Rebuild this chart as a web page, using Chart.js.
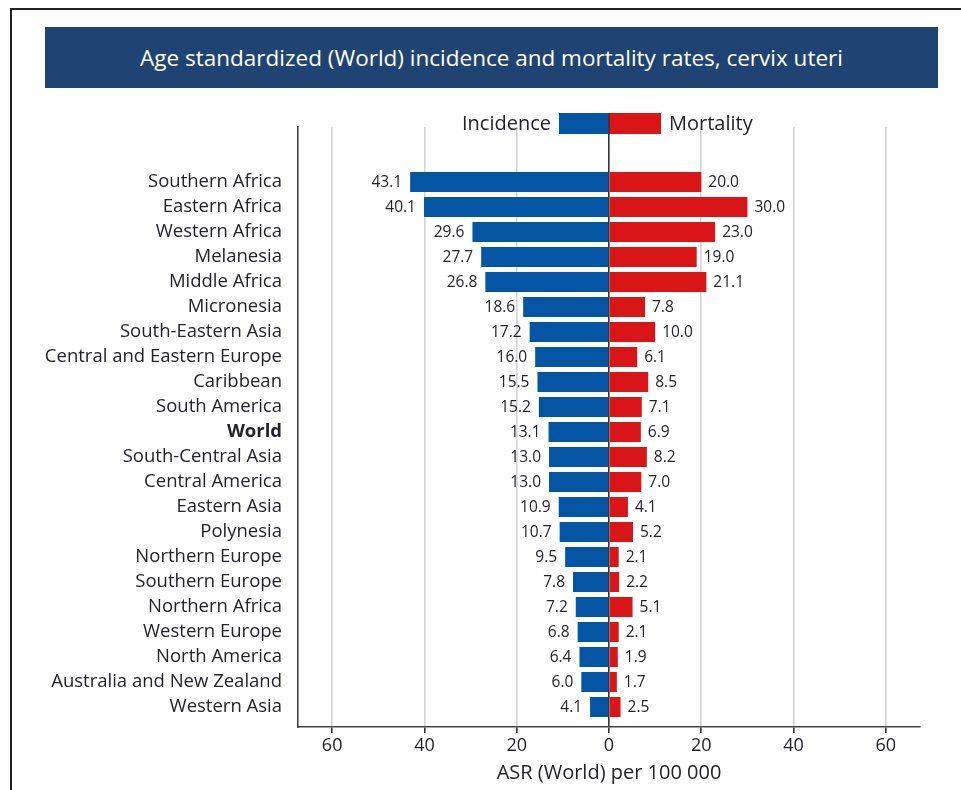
<!DOCTYPE html>
<html>
<head>
<meta charset="utf-8">
<script src="https://cdn.jsdelivr.net/npm/chart.js@4.4.1/dist/chart.umd.min.js"></script>
<style>
  html, body { margin: 0; padding: 0; background: #fff; }
  body { width: 961px; height: 790px; position: relative; overflow: hidden; font-family: "Open Sans", sans-serif; }
  #frame { position: absolute; left: 10px; top: 8px; width: 960px; height: 800px; border-top: 2px solid #222; border-left: 2px solid #222; }
  #title { position: absolute; left: 45px; top: 27px; width: 893px; height: 61px; background: #1f4474;
           color: #fff; font-size: 22.5px; line-height: 61px; text-align: center; }
  #wrap { position: absolute; left: 0; top: 0; width: 961px; height: 790px; }
</style>
</head>
<body>
<div id="frame"></div>
<div id="title">Age standardized (World) incidence and mortality rates, cervix uteri</div>
<div id="wrap"><canvas id="mycanvas"></canvas></div>
<script>
var regions = ['Southern Africa', 'Eastern Africa', 'Western Africa', 'Melanesia', 'Middle Africa',
	'Micronesia', 'South-Eastern Asia', 'Central and Eastern Europe', 'Caribbean', 'South America',
	'World', 'South-Central Asia', 'Central America', 'Eastern Asia', 'Polynesia', 'Northern Europe',
	'Southern Europe', 'Northern Africa', 'Western Europe', 'North America', 'Australia and New Zealand',
	'Western Asia'];
var incidence = [43.1, 40.1, 29.6, 27.7, 26.8, 18.6, 17.2, 16.0, 15.5, 15.2, 13.1, 13.0, 13.0, 10.9,
	10.7, 9.5, 7.8, 7.2, 6.8, 6.4, 6.0, 4.1];
var mortality = [20.0, 30.0, 23.0, 19.0, 21.1, 7.8, 10.0, 6.1, 8.5, 7.1, 6.9, 8.2, 7.0, 4.1,
	5.2, 2.1, 2.2, 5.1, 2.1, 1.9, 1.7, 2.5];
var xTicks = [-60, -40, -20, 0, 20, 40, 60];

var textColor = '#23232d';

// incidence goes to the left, mortality to the right
var incData = [], morData = [];
for (var i in regions) {
	incData.push({ x: -incidence[i], y: Number(i) });
	morData.push({ x: mortality[i], y: Number(i) });
}

var labelsPlugin = {
	id: 'valueLabels',
	afterDatasetsDraw: function(chart) {
		var ctx = chart.ctx;
		ctx.save();
		ctx.font = '15.5px "Open Sans"';
		ctx.fillStyle = textColor;
		ctx.textBaseline = 'middle';
		chart.getDatasetMeta(0).data.forEach(function(bar, i) {
			ctx.textAlign = 'right';
			ctx.fillText(incidence[i].toFixed(1), bar.x - 8, bar.y + 1);
		});
		chart.getDatasetMeta(1).data.forEach(function(bar, i) {
			ctx.textAlign = 'left';
			ctx.fillText(mortality[i].toFixed(1), bar.x + 7, bar.y + 1);
		});
		ctx.restore();
	},
	afterDraw: function(chart) {
		// legend: Incidence [blue][red] Mortality, centred on zero
		var ctx = chart.ctx;
		var zx = chart.scales.x.getPixelForValue(0);
		ctx.save();
		ctx.fillStyle = '#0455a4';
		ctx.fillRect(zx - 50, 113, 50, 21);
		ctx.fillStyle = '#d91517';
		ctx.fillRect(zx, 113, 52, 21);
		ctx.fillStyle = '#333';
		ctx.fillRect(zx - 0.75, 113, 1.5, 21);
		ctx.font = '20px "Open Sans"';
		ctx.fillStyle = textColor;
		ctx.textBaseline = 'middle';
		ctx.textAlign = 'right';
		ctx.fillText('Incidence', zx - 58, 124);
		ctx.textAlign = 'left';
		ctx.fillText('Mortality', zx + 60, 124);
		ctx.restore();
	}
};

var chartdata = {
	datasets: [
		{
			label: 'Incidence',
			backgroundColor: '#0455a4',
			data: incData,
			barPercentage: 0.8,
			categoryPercentage: 1
		},
		{
			label: 'Mortality',
			backgroundColor: '#d91517',
			data: morData,
			barPercentage: 0.8,
			categoryPercentage: 1
		}
	]
};

var ctx = document.getElementById('mycanvas');

var barGraph = new Chart(ctx, {
	type: 'bar',
	data: chartdata,
	plugins: [labelsPlugin],
	options: {
		indexAxis: 'y',
		maintainAspectRatio: false,
		responsive: true,
		animation: false,
		layout: { padding: { top: 127, right: 41, left: 0, bottom: 0 } },
		plugins: {
			legend: { display: false },
			tooltip: { enabled: false }
		},
		scales: {
			x: {
				type: 'linear',
				stacked: true,
				min: -67.4,
				max: 67.4,
				afterBuildTicks: function(axis) {
					axis.ticks = xTicks.map(function(v) { return { value: v }; });
				},
				afterFit: function(axis) { axis.height = 63; },
				ticks: {
					padding: 2,
					color: textColor,
					font: { family: 'Open Sans', size: 18 },
					callback: function(v) { return Math.abs(v); }
				},
				grid: {
					color: function(c) { return c.tick && c.tick.value === 0 ? '#333' : '#d4d4d4'; },
					lineWidth: 1.6,
					tickColor: '#333',
					tickLength: 6
				},
				border: { display: true, color: '#444', width: 1.6 },
				title: {
					display: true,
					text: 'ASR (World) per 100 000',
					color: textColor,
					font: { family: 'Open Sans', size: 20 },
					padding: { top: 0, bottom: 5 }
				}
			},
			y: {
				type: 'linear',
				stacked: true,
				reverse: true,
				offset: false,
				min: -2.2,
				max: 21.8,
				afterBuildTicks: function(axis) {
					axis.ticks = regions.map(function(r, i) { return { value: i }; });
				},
				afterFit: function(axis) { axis.width = 298; },
				ticks: {
					autoSkip: false,
					padding: 16,
					color: textColor,
					font: function(c) {
						var bold = c.tick && regions[c.tick.value] === 'World';
						return { family: 'Open Sans', size: 18.5, weight: bold ? 'bold' : 'normal' };
					},
					callback: function(v) { return regions[v]; }
				},
				grid: { drawOnChartArea: false, drawTicks: false },
				border: { display: true, color: '#444', width: 1.6 }
			}
		}
	}
});
</script>
</body>
</html>
